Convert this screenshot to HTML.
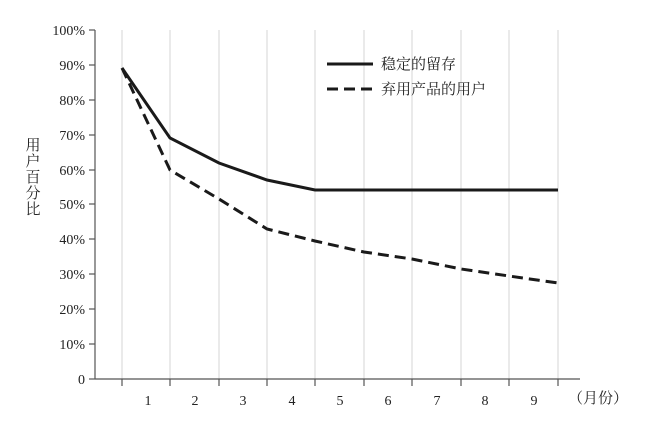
<!DOCTYPE html>
<html><head><meta charset="utf-8"><style>
html,body{margin:0;padding:0;background:#fff;}
svg text{font-family:"Liberation Serif","Noto Serif CJK SC",serif;fill:#222;}
</style></head><body>
<svg width="649" height="423" viewBox="0 0 649 423" xmlns="http://www.w3.org/2000/svg">
<g stroke="#d4d4d4" stroke-width="1">
<line x1="122" y1="30" x2="122" y2="379"/><line x1="170" y1="30" x2="170" y2="379"/>
<line x1="219" y1="30" x2="219" y2="379"/><line x1="267" y1="30" x2="267" y2="379"/>
<line x1="315" y1="30" x2="315" y2="379"/><line x1="364" y1="30" x2="364" y2="379"/>
<line x1="412" y1="30" x2="412" y2="379"/><line x1="461" y1="30" x2="461" y2="379"/>
<line x1="509" y1="30" x2="509" y2="379"/><line x1="558" y1="30" x2="558" y2="379"/>
</g>
<g stroke="#555" stroke-width="1.2">
<line x1="95" y1="30" x2="95" y2="379"/><line x1="95" y1="379" x2="580" y2="379"/>
<line x1="89" y1="30" x2="95" y2="30"/><line x1="89" y1="65" x2="95" y2="65"/>
<line x1="89" y1="100" x2="95" y2="100"/><line x1="89" y1="135" x2="95" y2="135"/>
<line x1="89" y1="170" x2="95" y2="170"/><line x1="89" y1="204" x2="95" y2="204"/>
<line x1="89" y1="239" x2="95" y2="239"/><line x1="89" y1="274" x2="95" y2="274"/>
<line x1="89" y1="309" x2="95" y2="309"/><line x1="89" y1="344" x2="95" y2="344"/>
<line x1="89" y1="379" x2="95" y2="379"/>
<line x1="122" y1="379" x2="122" y2="386"/><line x1="170" y1="379" x2="170" y2="386"/>
<line x1="219" y1="379" x2="219" y2="386"/><line x1="267" y1="379" x2="267" y2="386"/>
<line x1="315" y1="379" x2="315" y2="386"/><line x1="364" y1="379" x2="364" y2="386"/>
<line x1="412" y1="379" x2="412" y2="386"/><line x1="461" y1="379" x2="461" y2="386"/>
<line x1="509" y1="379" x2="509" y2="386"/><line x1="558" y1="379" x2="558" y2="386"/>
</g>
<g font-size="14" text-anchor="end">
<text x="85" y="35">100%</text><text x="85" y="70">90%</text><text x="85" y="105">80%</text>
<text x="85" y="140">70%</text><text x="85" y="175">60%</text><text x="85" y="209">50%</text>
<text x="85" y="244">40%</text><text x="85" y="279">30%</text><text x="85" y="314">20%</text>
<text x="85" y="349">10%</text><text x="85" y="384">0</text>
</g>
<g font-size="14" text-anchor="middle">
<text x="148" y="405">1</text><text x="195" y="405">2</text><text x="243" y="405">3</text>
<text x="292" y="405">4</text><text x="340" y="405">5</text><text x="388" y="405">6</text>
<text x="437" y="405">7</text><text x="485" y="405">8</text><text x="534" y="405">9</text>
</g>
<text x="568" y="403" font-size="15">（月份）</text>
<g font-size="15" text-anchor="middle">
<text x="33" y="150">用</text><text x="33" y="166">户</text><text x="33" y="182">百</text>
<text x="33" y="198">分</text><text x="33" y="214">比</text>
</g>
<polyline fill="none" stroke="#1a1a1a" stroke-width="3" points="122,68 170,138 219,163 267,180 315,190 558,190"/>
<polyline fill="none" stroke="#1a1a1a" stroke-width="3" stroke-dasharray="11,6" points="122,68 170,170 219,199 267,229 315,241 364,252 412,259 461,269 509,276 558,283"/>
<line x1="327" y1="64" x2="373" y2="64" stroke="#1a1a1a" stroke-width="3"/>
<line x1="327" y1="89" x2="373" y2="89" stroke="#1a1a1a" stroke-width="3" stroke-dasharray="11,6"/>
<text x="381" y="69" font-size="15">稳定的留存</text>
<text x="381" y="94" font-size="15">弃用产品的用户</text>
</svg>
</body></html>
